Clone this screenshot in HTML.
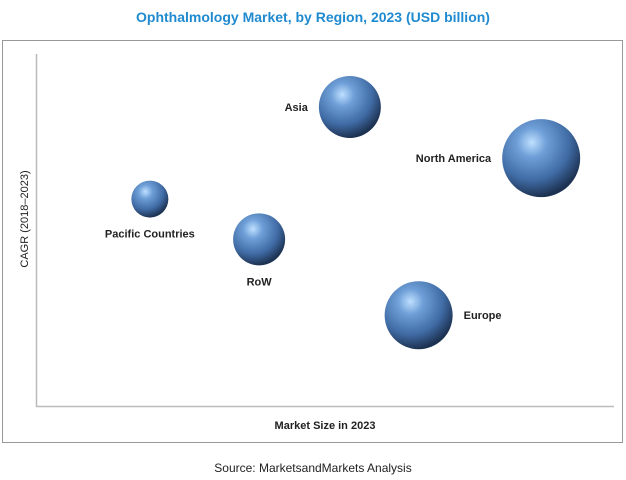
<!DOCTYPE html>
<html><head><meta charset="utf-8"><style>
body{margin:0;background:#fff;width:626px;height:475px;overflow:hidden;font-family:"Liberation Sans",sans-serif}
</style></head><body>
<svg width="626" height="475">
<defs>
<radialGradient id="g" cx="0.38" cy="0.3" r="0.75">
<stop offset="0" stop-color="#bfe0ff"/>
<stop offset="0.25" stop-color="#6f9fd8"/>
<stop offset="0.65" stop-color="#3f6aa3"/>
<stop offset="0.95" stop-color="#1b2f4d"/>
<stop offset="1" stop-color="#2a4670"/>
</radialGradient>
</defs>
<text x="313" y="22" text-anchor="middle" font-size="14" font-weight="bold" fill="#1f8ad0">Ophthalmology Market, by Region, 2023 (USD billion)</text>
<rect x="2.5" y="40.5" width="620" height="402" fill="none" stroke="#999"/>
<line x1="36.5" y1="54" x2="36.5" y2="407" stroke="#bbb" stroke-width="1.5"/>
<line x1="36" y1="406.5" x2="614" y2="406.5" stroke="#bbb" stroke-width="1.5"/>
<text x="325" y="429" text-anchor="middle" font-size="11" font-weight="bold" fill="#222">Market Size in 2023</text>
<text transform="translate(28,219) rotate(-90)" text-anchor="middle" font-size="11" fill="#222">CAGR (2018–2023)</text>
<text x="313" y="472" text-anchor="middle" font-size="12" fill="#222">Source: MarketsandMarkets Analysis</text>
<g id="bubbles"></g>
</svg>
<script>
const regions=["Asia","North America","Pacific Countries","RoW","Europe"];
const marketSize=[54.3,87.4,19.7,38.6,66.2];
const cagr=[85,70.5,58.9,47.5,26];
const bubbleSize=[31,39,18.5,26,34];
const labelPos=["left","left","below","below","right"];
const sx=v=>36+v/100*578;
const sy=v=>407-v/100*353;
const svg=document.getElementById('bubbles');
const NS="http://www.w3.org/2000/svg";
regions.forEach((r,i)=>{
const cx=sx(marketSize[i]),cy=sy(cagr[i]),rad=bubbleSize[i];
const c=document.createElementNS(NS,'circle');
c.setAttribute('cx',cx);c.setAttribute('cy',cy);c.setAttribute('r',rad);c.setAttribute('fill','url(#g)');


svg.appendChild(c);
const t=document.createElementNS(NS,'text');
t.setAttribute('font-size','11');t.setAttribute('font-weight','bold');t.setAttribute('fill','#222');
let tx=cx,ty=cy+4,anc='middle';
if(labelPos[i]==='left'){tx=cx-rad-11;anc='end';}
else if(labelPos[i]==='right'){tx=cx+rad+11;anc='start';}
else{ty=cy+rad+20;}
t.setAttribute('x',tx);t.setAttribute('y',ty);t.setAttribute('text-anchor',anc);
t.textContent=r;


svg.appendChild(t);
});
</script>
</body></html>
